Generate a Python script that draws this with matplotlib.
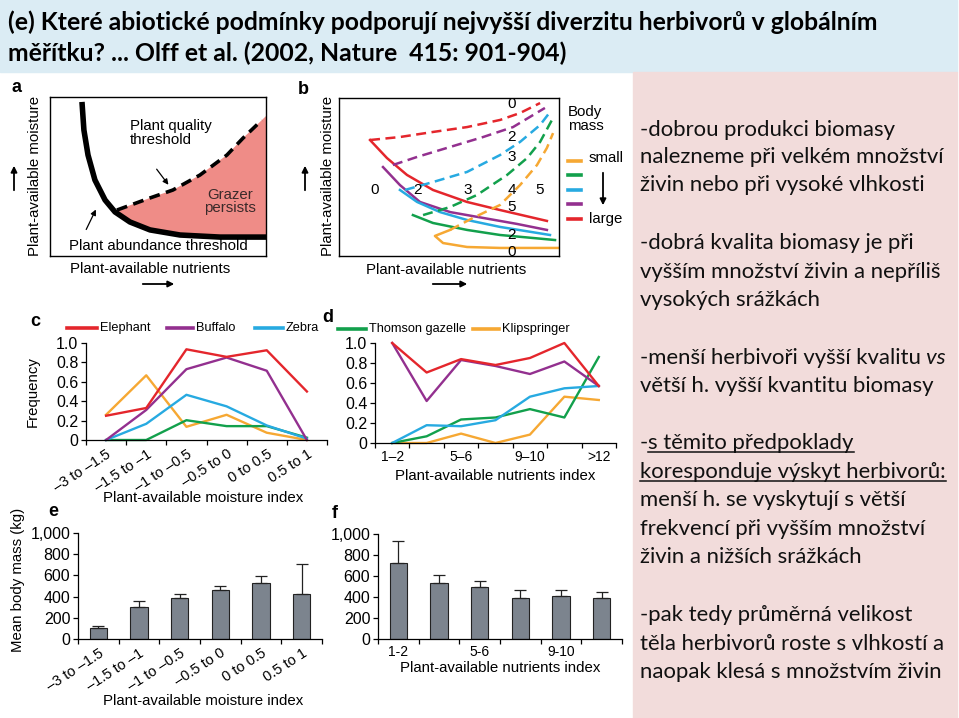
import numpy as np
import matplotlib
matplotlib.use("Agg")
import matplotlib.pyplot as plt
from matplotlib.patches import Rectangle, FancyArrowPatch
from matplotlib.lines import Line2D

plt.rcParams['font.family'] = ['Liberation Sans', 'DejaVu Sans']

W, H = 959, 718
RED, PURPLE, CYAN, GREEN, ORANGE = '#e4262c', '#93308f', '#27aae1', '#12a04c', '#f6a833'

# panel a - schematic thresholds (axis fraction)
a_abund_x = [0.148, 0.157, 0.176, 0.208, 0.255, 0.301, 0.370, 0.463, 0.602, 0.787, 1.0]
a_abund_y = [0.969, 0.792, 0.635, 0.478, 0.352, 0.277, 0.214, 0.164, 0.132, 0.119, 0.119]
a_qual_x = [0.310, 0.463, 0.569, 0.694, 0.819, 0.894, 0.981]
a_qual_y = [0.289, 0.365, 0.415, 0.509, 0.635, 0.742, 0.855]

# panel b - thresholds per body mass class, large -> small
b_colors = [RED, PURPLE, CYAN, GREEN, ORANGE]
b_solid_x = [[0.141, 0.218, 0.309, 0.427, 0.582, 0.732, 0.945],
             [0.200, 0.277, 0.368, 0.505, 0.655, 0.809, 0.945],
             [0.277, 0.355, 0.459, 0.582, 0.732, 0.959],
             [0.336, 0.427, 0.582, 0.732, 0.882, 0.982],
             [0.505, 0.436, 0.473, 0.582, 0.732, 0.995]]
b_solid_y = [[0.734, 0.620, 0.513, 0.418, 0.342, 0.291, 0.222],
             [0.563, 0.449, 0.342, 0.278, 0.241, 0.203, 0.165],
             [0.418, 0.342, 0.278, 0.228, 0.184, 0.133],
             [0.259, 0.209, 0.165, 0.133, 0.114, 0.101],
             [0.165, 0.127, 0.082, 0.057, 0.051, 0.051]]
b_dash_x = [[0.141, 0.277, 0.427, 0.582, 0.732, 0.823, 0.914],
            [0.245, 0.355, 0.505, 0.655, 0.791, 0.882, 0.936],
            [0.300, 0.427, 0.582, 0.732, 0.823, 0.914, 0.959],
            [0.382, 0.505, 0.627, 0.764, 0.855, 0.914, 0.968],
            [0.505, 0.609, 0.732, 0.823, 0.900, 0.945, 0.973]]
b_dash_y = [[0.734, 0.753, 0.785, 0.816, 0.861, 0.905, 0.968],
            [0.576, 0.627, 0.690, 0.753, 0.816, 0.892, 0.937],
            [0.418, 0.468, 0.532, 0.639, 0.722, 0.829, 0.911],
            [0.259, 0.310, 0.386, 0.513, 0.620, 0.722, 0.861],
            [0.165, 0.241, 0.323, 0.449, 0.576, 0.684, 0.778]]

# panel c - frequency vs moisture index
c_labels = ["–3 to –1.5", "–1.5 to –1", "–1 to –0.5", "–0.5 to 0", "0 to 0.5", "0.5 to 1"]
c_elephant = [0.25, 0.33, 0.935, 0.857, 0.925, 0.50]
c_buffalo = [0.0, 0.31, 0.73, 0.85, 0.714, 0.0]
c_zebra = [0.0, 0.167, 0.466, 0.347, 0.15, 0.014]
c_gazelle = [0.0, 0.0, 0.204, 0.143, 0.143, 0.024]
c_klip = [0.26, 0.667, 0.136, 0.26, 0.075, 0.0]

# panel d - frequency vs nutrients index
d_labels = ["1–2", "", "5–6", "", "9–10", "", ">12"]
d_elephant = [1.0, 0.705, 0.839, 0.78, 0.85, 1.0, 0.57]
d_buffalo = [1.0, 0.42, 0.83, 0.77, 0.69, 0.815, 0.57]
d_zebra = [0.0, 0.178, 0.168, 0.228, 0.463, 0.547, 0.57]
d_gazelle = [0.0, 0.067, 0.235, 0.255, 0.339, 0.255, 0.86]
d_klip = [0.0, 0.0, 0.094, 0.0, 0.084, 0.463, 0.43]

# panels e, f - mean body mass (kg) with upper error
e_mass = [107, 300, 385, 460, 524, 423]
e_err = [19, 63, 44, 38, 66, 287]
f_labels = ["1-2", "", "5-6", "", "9-10", ""]
f_mass = [723, 538, 500, 395, 408, 395]
f_err = [207, 73, 48, 67, 54, 48]

fig = plt.figure(figsize=(W / 100, H / 100), dpi=100)


def add_ax(l, t, r, b):
    return fig.add_axes([l / W, 1 - b / H, (r - l) / W, (b - t) / H])


def ftext(x, y, s, **kw):
    return fig.text(x / W, 1 - y / H, s, **kw)


def farrow(x0, y0, x1, y1):
    fig.add_artist(FancyArrowPatch((x0 / W, 1 - y0 / H), (x1 / W, 1 - y1 / H),
                                   transform=fig.transFigure, arrowstyle='-|>',
                                   mutation_scale=9, lw=1.3, color='k'))


def fline(x0, x1, y, color, lw=2.6):
    fig.add_artist(Line2D([x0 / W, x1 / W], [1 - y / H] * 2, color=color, lw=lw))


# background blocks of the slide
fig.add_artist(Rectangle((0, 1 - 72 / H), 957 / W, 72 / H, transform=fig.transFigure,
                         color='#dbecf4', zorder=0))
fig.add_artist(Rectangle((633 / W, 0), (957 - 633) / W, (718 - 72) / H,
                         transform=fig.transFigure, color='#f2dcdb', zorder=0))

ftext(8, 22, "(e) Které abiotické podmínky podporují nejvyšší diverzitu herbivorů v globálním",
      family='Lato', fontweight='bold', fontsize=17.8, va='center')
ftext(8, 53, "měřítku? ... Olff et al. (2002, Nature  415: 901-904)",
      family='Lato', fontweight='bold', fontsize=17.8, va='center')

# ---------- panel a ----------
axa = add_ax(50, 97, 266, 256)
axa.set_xlim(0, 1)
axa.set_ylim(0, 1)
axa.set_xticks([])
axa.set_yticks([])
for s in axa.spines.values():
    s.set_linewidth(1.0)
keep = [i for i, x in enumerate(a_abund_x) if x >= 0.30]
poly_x = a_qual_x + [1.0] + [a_abund_x[i] for i in reversed(keep)]
poly_y = a_qual_y + [0.88] + [a_abund_y[i] for i in reversed(keep)]
axa.fill(poly_x, poly_y, color='#ef8c87', lw=0)
axa.plot(a_abund_x, a_abund_y, color='k', lw=4, solid_capstyle='butt')
axa.plot(a_qual_x, a_qual_y, color='k', lw=2.6, ls=(0, (3, 1.8)))
axa.text(0.37, 0.86, "Plant quality\nthreshold", fontsize=10.8, va='top', ha='left', linespacing=0.95)
axa.annotate("", xy=(0.556, 0.434), xytext=(0.486, 0.56),
             arrowprops=dict(arrowstyle='-|>', color='k', lw=0.9, mutation_scale=8))
axa.text(0.833, 0.343, "Grazer\npersists", fontsize=10.8, ha='center', va='center', linespacing=0.95,
         color='#3a2a2a')
axa.text(0.502, 0.06, "Plant abundance threshold", fontsize=10.8, ha='center', va='center')
axa.annotate("", xy=(0.218, 0.308), xytext=(0.162, 0.151),
             arrowprops=dict(arrowstyle='-|>', color='k', lw=0.9, mutation_scale=8))
ftext(17, 88, "a", fontsize=13, fontweight='bold', ha='center', va='center')
ftext(35, 176, "Plant-available moisture", fontsize=10.8, rotation=90, ha='center', va='center')
ftext(150, 269, "Plant-available nutrients", fontsize=10.8, ha='center', va='center')
farrow(14, 193, 14, 163)
farrow(140, 284, 177, 284)

# ---------- panel b ----------
axb = add_ax(339, 98, 559, 256)
axb.set_xlim(0, 1)
axb.set_ylim(0, 1)
axb.set_xticks([])
axb.set_yticks([])
for s in axb.spines.values():
    s.set_linewidth(1.0)
for k in range(len(b_colors)):
    axb.plot(b_dash_x[k], b_dash_y[k], color=b_colors[k], lw=1.8, ls=(0, (4, 2.2)), clip_on=False)
    axb.plot(b_solid_x[k], b_solid_y[k], color=b_colors[k], lw=1.8, clip_on=False)
for x, s in zip([0.164, 0.359, 0.586, 0.786, 0.914], ["0", "2", "3", "4", "5"]):
    axb.text(x, 0.42, s, fontsize=11, ha='center', va='center')
for y, s in zip([0.962, 0.753, 0.627, 0.310, 0.133, 0.025], ["0", "2", "3", "5", "2", "0"]):
    axb.text(0.786, y, s, fontsize=11, ha='center', va='center', clip_on=False)
ftext(303, 89, "b", fontsize=13, fontweight='bold', ha='center', va='center')
ftext(328, 176, "Plant-available moisture", fontsize=10.8, rotation=90, ha='center', va='center')
ftext(446, 270, "Plant-available nutrients", fontsize=10.8, ha='center', va='center')
farrow(305, 193, 305, 163)
farrow(430, 284, 470, 284)
ftext(568, 119, "Body\nmass", fontsize=10.8, ha='left', va='center', linespacing=0.95)
for y, col in zip([161, 175, 190, 204, 219], [ORANGE, GREEN, CYAN, PURPLE, RED]):
    fline(568, 581, y, col, lw=2.6)
ftext(589, 158, "small", fontsize=10.8, ha='left', va='center')
ftext(589, 219, "large", fontsize=10.8, ha='left', va='center')
farrow(603, 170, 603, 208)


def style_axes(ax):
    for s in ['top', 'right']:
        ax.spines[s].set_visible(False)
    for s in ['left', 'bottom']:
        ax.spines[s].set_linewidth(0.9)
    ax.tick_params(labelsize=11.5, length=3.5, width=0.9, pad=2)


# ---------- panel c ----------
axc = add_ax(86, 343, 327, 440)
style_axes(axc)
xc = np.arange(len(c_labels)) + 0.5
for vals, col in [(c_klip, ORANGE), (c_gazelle, GREEN), (c_zebra, CYAN),
                  (c_buffalo, PURPLE), (c_elephant, RED)]:
    axc.plot(xc, vals, color=col, lw=1.7, clip_on=False)
axc.set_xlim(0, len(c_labels))
axc.set_ylim(0, 1)
axc.set_yticks([0, 0.2, 0.4, 0.6, 0.8, 1.0])
axc.set_yticklabels(['0', '0.2', '0.4', '0.6', '0.8', '1.0'])
axc.set_xticks(np.arange(len(c_labels) + 1))
axc.set_xticklabels([])
axc.set_xticks(xc, minor=True)
axc.set_xticklabels(c_labels, minor=True, rotation=33, ha='right', va='top', rotation_mode='anchor')
axc.tick_params(axis='x', which='minor', length=0, pad=5, labelsize=10.5)
ftext(35, 321, "c", fontsize=13, fontweight='bold', ha='center', va='center')
ftext(33, 392, "Frequency", fontsize=10.8, rotation=90, ha='center', va='center')
ftext(203, 498, "Plant-available moisture index", fontsize=10.8, ha='center', va='center')
for x0, x1, col, name in [(67, 97, RED, "Elephant"), (167, 193, PURPLE, "Buffalo"),
                          (255, 283, CYAN, "Zebra")]:
    fline(x0, x1, 328, col)
    ftext(x1 + 3, 328, name, fontsize=9.2, ha='left', va='center')

# ---------- panel d ----------
axd = add_ax(375, 343, 616, 443)
style_axes(axd)
xd = np.arange(len(d_labels)) + 0.5
for vals, col in [(d_klip, ORANGE), (d_gazelle, GREEN), (d_zebra, CYAN),
                  (d_buffalo, PURPLE), (d_elephant, RED)]:
    axd.plot(xd, vals, color=col, lw=1.7, clip_on=False)
axd.set_xlim(0, len(d_labels))
axd.set_ylim(0, 1)
axd.set_yticks([0, 0.2, 0.4, 0.6, 0.8, 1.0])
axd.set_yticklabels(['0', '0.2', '0.4', '0.6', '0.8', '1.0'])
axd.set_xticks(np.arange(len(d_labels) + 1))
axd.set_xticklabels([])
axd.set_xticks(xd, minor=True)
axd.set_xticklabels(d_labels, minor=True)
axd.tick_params(axis='x', which='minor', length=0, pad=5)
ftext(328, 318, "d", fontsize=13, fontweight='bold', ha='center', va='center')
ftext(495, 476, "Plant-available nutrients index", fontsize=10.8, ha='center', va='center')
for x0, x1, col, name in [(338, 366, GREEN, "Thomson gazelle"), (473, 499, ORANGE, "Klipspringer")]:
    fline(x0, x1, 329, col)
    ftext(x1 + 3, 329, name, fontsize=9.2, ha='left', va='center')


# ---------- panels e, f ----------
def bars(ax, vals, errs, labels, rotate):
    style_axes(ax)
    x = np.arange(len(vals)) + 0.5
    ax.bar(x, vals, width=0.42, color='#7c848e', edgecolor='#222222', linewidth=0.8,
           yerr=[[0] * len(errs), errs], capsize=4,
           error_kw=dict(elinewidth=0.9, capthick=0.9, ecolor='#222222'))
    ax.set_xlim(0, len(vals))
    ax.set_ylim(0, 1000)
    ax.set_yticks([0, 200, 400, 600, 800, 1000])
    ax.set_yticklabels(['0', '200', '400', '600', '800', '1,000'])
    ax.set_xticks(np.arange(len(vals) + 1))
    ax.set_xticklabels([])
    ax.set_xticks(x, minor=True)
    if rotate:
        ax.set_xticklabels(labels, minor=True, rotation=33, ha='right', va='top',
                           rotation_mode='anchor')
        ax.tick_params(axis='x', which='minor', length=0, pad=5, labelsize=10.5)
    else:
        ax.set_xticklabels(labels, minor=True)
        ax.tick_params(axis='x', which='minor', length=0, pad=4)


axe = add_ax(78, 533, 322, 639)
bars(axe, e_mass, e_err, c_labels, True)
ftext(53, 511, "e", fontsize=13, fontweight='bold', ha='center', va='center')
ftext(18, 580, "Mean body mass (kg)", fontsize=10.8, rotation=90, ha='center', va='center')
ftext(203, 701, "Plant-available moisture index", fontsize=10.8, ha='center', va='center')

axf = add_ax(378, 534, 622, 639)
bars(axf, f_mass, f_err, f_labels, False)
ftext(335, 513, "f", fontsize=13, fontweight='bold', ha='center', va='center')
ftext(500, 668, "Plant-available nutrients index", fontsize=10.8, ha='center', va='center')

# ---------- right-hand notes ----------
NOTE_FS = 15.9
notes = [
    (136, [("-dobrou produkci biomasy", "")]),
    (163, [("nalezneme při velkém množství", "")]),
    (191, [("živin nebo při vysoké vlhkosti", "")]),
    (249, [("-dobrá kvalita biomasy je při", "")]),
    (278, [("vyšším množství živin a nepříliš", "")]),
    (306, [("vysokých srážkách", "")]),
    (364, [("-menší herbivoři vyšší kvalitu", ""), (" vs", "i")]),
    (392, [("větší h. vyšší kvantitu biomasy", "")]),
    (449, [("-", ""), ("s těmito předpoklady", "u")]),
    (478, [("koresponduje výskyt herbivorů:", "u")]),
    (506, [("menší h. se vyskytují s větší", "")]),
    (535, [("frekvencí při vyšším množství", "")]),
    (563, [("živin a nižších srážkách", "")]),
    (621, [("-pak tedy průměrná velikost", "")]),
    (650, [("těla herbivorů roste s vlhkostí a", "")]),
    (678, [("naopak klesá s množstvím živin", "")]),
]
renderer = fig.canvas.get_renderer()
for yb, pieces in notes:
    x = 640
    for s, st in pieces:
        t = ftext(x, yb, s, family='Lato', fontsize=NOTE_FS, va='baseline', ha='left',
                  style='italic' if st == 'i' else 'normal', color='#111111')
        bb = t.get_window_extent(renderer)
        if st == 'u':
            fig.add_artist(Line2D([x / W, bb.x1 / W], [1 - (yb + 3) / H] * 2, color='#111111', lw=1.1))
        x = bb.x1

fig.savefig("out.png", dpi=100)
